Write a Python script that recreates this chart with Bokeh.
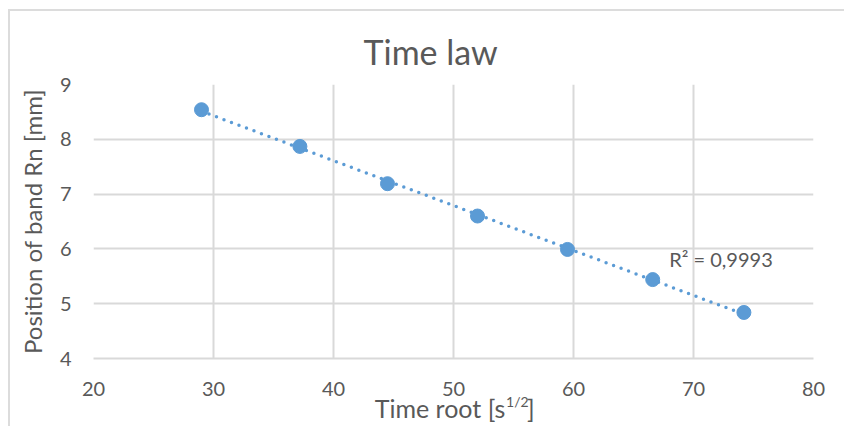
import numpy as np
from bokeh.plotting import figure
from bokeh.models import Range1d, FixedTicker, Label, ColumnDataSource, LinearAxis
from bokeh.embed import file_html
from bokeh.resources import INLINE

# ---- data ----
time_root = [29.0, 37.2, 44.5, 52.0, 59.5, 66.6, 74.2]
band_pos = [8.54, 7.87, 7.19, 6.60, 5.99, 5.44, 4.84]
x_ticks = [20, 30, 40, 50, 60, 70, 80]
y_ticks = [4, 5, 6, 7, 8, 9]
title_text = "Time law"
x_title_main = "Time root [s"
x_title_sup = "1/2"
x_title_end = "]"
y_title = "Position of band Rn [mm]"
r2_text = "R\u00b2 = 0,9993"

FONT = "Lato"
TXT = "#595959"
GRID = "#d9d9d9"
BLUE = "#5b9bd5"

p = figure(width=844, height=426, output_backend="svg", toolbar_location=None,
           x_range=Range1d(20, 80), y_range=Range1d(4, 9),
           min_border_left=93, min_border_right=31, min_border_top=84, min_border_bottom=68)
p.styles = {
    "background-image": "linear-gradient(#dcdcdc,#dcdcdc), linear-gradient(#dcdcdc,#dcdcdc)",
    "background-size": "100% 2px, 2px 100%",
    "background-position": "8px 9px, 8px 9px",
    "background-repeat": "no-repeat",
}
p.border_fill_color = None
p.background_fill_color = "white"
p.outline_line_color = None

# title
p.title.text = title_text
p.title.align = "left"
p.title.offset = 270
p.title.standoff = 26
p.title.text_font = FONT
p.title.text_font_size = "34px"
p.title.text_font_style = "normal"
p.title.text_color = TXT


def style_axis(ax, size="20px"):
    ax.major_tick_line_color = None
    ax.minor_tick_line_color = None
    ax.major_tick_out = 0
    ax.major_tick_in = 0
    ax.minor_tick_out = 0
    ax.minor_tick_in = 0
    ax.major_label_text_font = FONT
    ax.major_label_text_font_size = size
    ax.major_label_text_color = TXT


xa, ya = p.xaxis[0], p.yaxis[0]
style_axis(xa)
style_axis(ya)
xa.ticker = FixedTicker(ticks=x_ticks)
ya.ticker = FixedTicker(ticks=y_ticks)
xa.axis_line_color = GRID
xa.axis_line_width = 2
ya.axis_line_color = None
xa.major_label_standoff = 23
ya.major_label_standoff = 22

ya.axis_label = y_title
ya.axis_label_text_font = FONT
ya.axis_label_text_font_size = "24px"
ya.axis_label_text_font_style = "normal"
ya.axis_label_text_color = TXT
ya.axis_label_standoff = 10

# x-axis title row built from label-only axes (superscript row, then main row)
sup_pos = 55.32
main_pos = 48.88
end_pos = 56.45
ax_sup = LinearAxis(ticker=FixedTicker(ticks=[sup_pos]),
                    major_label_overrides={sup_pos: x_title_sup})
style_axis(ax_sup, "14px")
ax_sup.axis_line_color = None
ax_sup.major_label_standoff = -6
p.add_layout(ax_sup, "below")

ax_main = LinearAxis(ticker=FixedTicker(ticks=[main_pos, end_pos]),
                     major_label_overrides={main_pos: x_title_main, end_pos: x_title_end})
style_axis(ax_main, "25px")
ax_main.axis_line_color = None
ax_main.major_label_standoff = -20
p.add_layout(ax_main, "below")

p.xgrid[0].ticker = FixedTicker(ticks=x_ticks)
p.ygrid[0].ticker = FixedTicker(ticks=y_ticks)
for g in (p.xgrid[0], p.ygrid[0]):
    g.grid_line_color = GRID
    g.grid_line_width = 2

# trendline (linear least squares)
k, b = np.polyfit(time_root, band_pos, 1)
tx = [time_root[0], time_root[-1]]
ty = [k * v + b for v in tx]
p.line(tx, ty, line_color=BLUE, line_width=3.5, line_dash="0 8", line_cap="round")

src = ColumnDataSource(dict(x=time_root, y=band_pos))
p.scatter("x", "y", source=src, size=14, fill_color=BLUE, line_color=BLUE)

p.add_layout(Label(x=67.97, y=5.82, text=r2_text, text_font=FONT, text_color=TXT,
                   text_font_size="20px", text_align="left", text_baseline="middle"))

open("out.html", "w").write(file_html(p, INLINE))
